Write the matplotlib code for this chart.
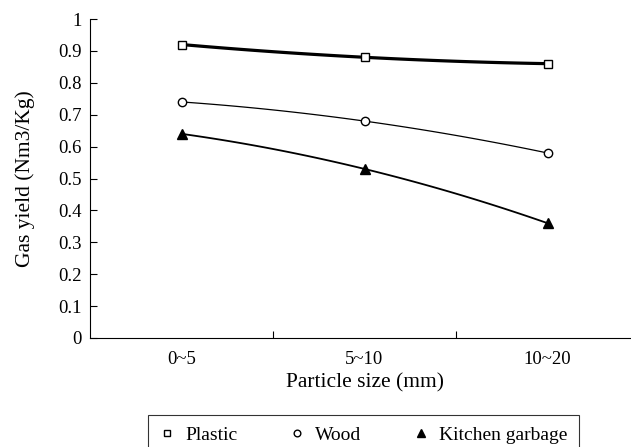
import numpy as np
import matplotlib
matplotlib.use("Agg")
import matplotlib.pyplot as plt

categories = ["0~5", "5~10", "10~20"]
plastic = [0.92, 0.88, 0.86]
wood = [0.74, 0.68, 0.58]
kitchen = [0.64, 0.53, 0.36]

plt.rcParams['font.family'] = ['Liberation Serif', 'DejaVu Serif']

fig = plt.figure(figsize=(6.31, 4.47), dpi=100)
ax = fig.add_axes([90/631, 1-338/447, 549/631, (338-19)/447])

x = np.arange(len(categories))
xs = np.linspace(0, len(categories)-1, 100)

def smooth(y):
    c = np.polyfit(x, y, 2)
    return np.polyval(c, xs)

series = [
    ("Plastic", plastic, dict(marker='s', mfc='white', mec='black', ms=6.0, mew=1.0), 2.3),
    ("Wood", wood, dict(marker='o', mfc='white', mec='black', ms=6.0, mew=1.0), 0.9),
    ("Kitchen garbage", kitchen, dict(marker='^', mfc='black', mec='black', ms=7.0, mew=1.0), 1.3),
]
handles = []
for name, y, mk, lw in series:
    ax.plot(xs, smooth(y), color='black', lw=lw, zorder=2, clip_on=False)
    ax.plot(x, y, ls='none', zorder=3, clip_on=False, **mk)
    lm = dict(mk)
    lm['ms'] = mk['ms'] * 0.8
    h, = ax.plot([], [], ls='none', **lm)
    h.set_label(name)
    handles.append(h)

ax.set_ylim(0, 1)
ax.set_yticks(np.arange(0, 1.01, 0.1))
ax.set_yticklabels(["0", "0.1", "0.2", "0.3", "0.4", "0.5", "0.6", "0.7", "0.8", "0.9", "1"])
ax.set_xlim(-0.5, 2.5)
ax.set_xticks([0.5, 1.5])
ax.set_xticklabels([])
ax.set_xticks(x, minor=True)
ax.set_xticklabels(categories, minor=True)
ax.tick_params(axis='x', which='minor', length=0, pad=9, labelsize=13.5)
ax.tick_params(axis='x', which='major', direction='in', length=5, width=0.8)
ax.tick_params(axis='y', direction='in', length=5, width=0.8, labelsize=13.5, pad=6)
for s in ['top', 'right']:
    ax.spines[s].set_visible(False)
for s in ['left', 'bottom']:
    ax.spines[s].set_linewidth(0.8)

ax.set_ylabel("Gas yield (Nm3/Kg)", fontsize=15.5, labelpad=17)
ax.set_xlabel("Particle size (mm)", fontsize=15.5, labelpad=4)

leg = fig.legend(handles=handles, loc='upper left', bbox_to_anchor=(148/631, 1-415/447),
                 ncol=3, frameon=True, fancybox=False, edgecolor='black',
                 fontsize=14, handlelength=0.8, handletextpad=0.5, columnspacing=2.7,
                 borderpad=0.6, borderaxespad=0)
leg.get_frame().set_linewidth(0.8)

fig.savefig("out.png", dpi=100)
